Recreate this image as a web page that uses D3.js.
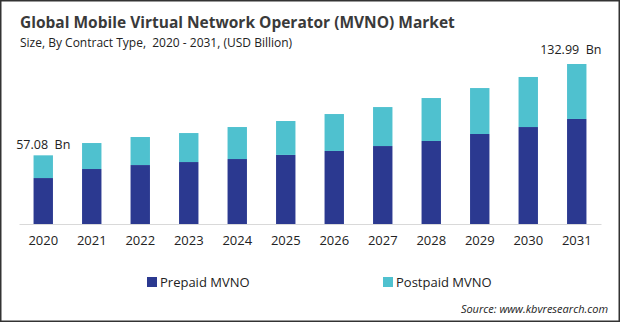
<!DOCTYPE html>
<html>
<head>
<meta charset="utf-8">
<script src="https://cdn.jsdelivr.net/npm/d3@7"></script>
<style>
  html, body { margin: 0; padding: 0; background: #fff; }
  svg { display: block; font-family: "Open Sans", "Noto Sans", sans-serif; }
</style>
</head>
<body>
<svg id="chart"></svg>
<script>
const WIDTH = 620;
const HEIGHT = 322;

const years = ["2020", "2021", "2022", "2023", "2024", "2025", "2026", "2027", "2028", "2029", "2030", "2031"];
const prepaid = [38.2, 45.7, 49.0, 51.5, 54.0, 57.4, 60.7, 64.8, 69.0, 74.8, 80.6, 87.3];
const totals = [57.08, 67.3, 72.3, 75.6, 80.6, 85.6, 91.4, 97.2, 104.7, 113.0, 122.2, 132.99];
const postpaid = totals.map((t, i) => +(t - prepaid[i]).toFixed(2));
const seriesNames = ["Prepaid MVNO", "Postpaid MVNO"];
const colors = ["#2b3990", "#4fc1cf"];

const MARGINS = { left: 19, right: 19, top: 64, bottom: 98 };

const svg = d3.select("#chart").attr("width", WIDTH).attr("height", HEIGHT);

// frame
svg.append("rect")
  .attr("x", 0.5).attr("y", 0.5)
  .attr("width", WIDTH - 1).attr("height", HEIGHT - 1)
  .attr("fill", "#fff")
  .attr("stroke", "#333")
  .attr("stroke-width", 2);

svg.append("text")
  .attr("x", 20).attr("y", 28)
  .attr("font-size", 15.5)
  .attr("font-weight", "bold")
  .attr("fill", "#3a3a3a")
  .text("Global Mobile Virtual Network Operator (MVNO) Market");

svg.append("text")
  .attr("x", 20).attr("y", 47)
  .attr("font-size", 12)
  .attr("fill", "#222")
  .attr("xml:space", "preserve")
  .text("Size, By Contract Type,  2020 - 2031, (USD Billion)");

const baseline = HEIGHT - MARGINS.bottom;

const x = d3.scaleBand()
  .domain(years)
  .range([MARGINS.left, WIDTH - MARGINS.right])
  .paddingInner(0.6)
  .paddingOuter(0.3);

const y = d3.scaleLinear()
  .domain([0, 132.99])
  .range([baseline, MARGINS.top]);

const rows = years.map((year, i) => ({ year, prepaid: prepaid[i], postpaid: postpaid[i] }));
const stacked = d3.stack().keys(["prepaid", "postpaid"])(rows);

svg.append("g")
  .selectAll("g")
  .data(stacked)
  .join("g")
  .attr("fill", (d, i) => colors[i])
  .selectAll("rect")
  .data((d) => d)
  .join("rect")
  .attr("x", (d) => x(d.data.year))
  .attr("width", x.bandwidth())
  .attr("y", (d) => y(d[1]))
  .attr("height", (d) => y(d[0]) - y(d[1]));

// x axis
const xAxis = svg.append("g")
  .attr("transform", `translate(0, ${baseline})`)
  .call(d3.axisBottom(x).tickSize(0).tickPadding(12));
xAxis.select(".domain").attr("stroke", "#d9d9d9");
xAxis.selectAll("text")
  .attr("font-size", 13)
  .attr("font-family", "'Open Sans', 'Noto Sans', sans-serif")
  .attr("fill", "#222");

// end value labels
const first = 0;
const last = years.length - 1;
svg.append("text")
  .attr("x", x(years[first]) + x.bandwidth() / 2)
  .attr("y", y(totals[first]) - 6)
  .attr("text-anchor", "middle")
  .attr("font-size", 12.5)
  .attr("fill", "#222")
  .attr("xml:space", "preserve")
  .text(`${totals[first].toFixed(2)}  Bn`);

svg.append("text")
  .attr("x", x(years[last]) + x.bandwidth() + 15)
  .attr("y", y(totals[last]) - 10)
  .attr("text-anchor", "end")
  .attr("font-size", 12.5)
  .attr("fill", "#222")
  .attr("xml:space", "preserve")
  .text(`${totals[last].toFixed(2)}  Bn`);

// legend
const legendX = [147, 383];
const legend = svg.append("g")
  .selectAll("g")
  .data(seriesNames)
  .join("g")
  .attr("transform", (d, i) => `translate(${legendX[i]}, 277)`);
legend.append("rect")
  .attr("width", 10).attr("height", 10)
  .attr("fill", (d, i) => colors[i]);
legend.append("text")
  .attr("x", 13).attr("y", 9.5)
  .attr("font-size", 13)
  .attr("fill", "#222")
  .text((d) => d);

svg.append("text")
  .attr("x", 608).attr("y", 313)
  .attr("text-anchor", "end")
  .attr("font-size", 11)
  .attr("font-style", "italic")
  .attr("fill", "#222")
  .text("Source: www.kbvresearch.com");
</script>
</body>
</html>
